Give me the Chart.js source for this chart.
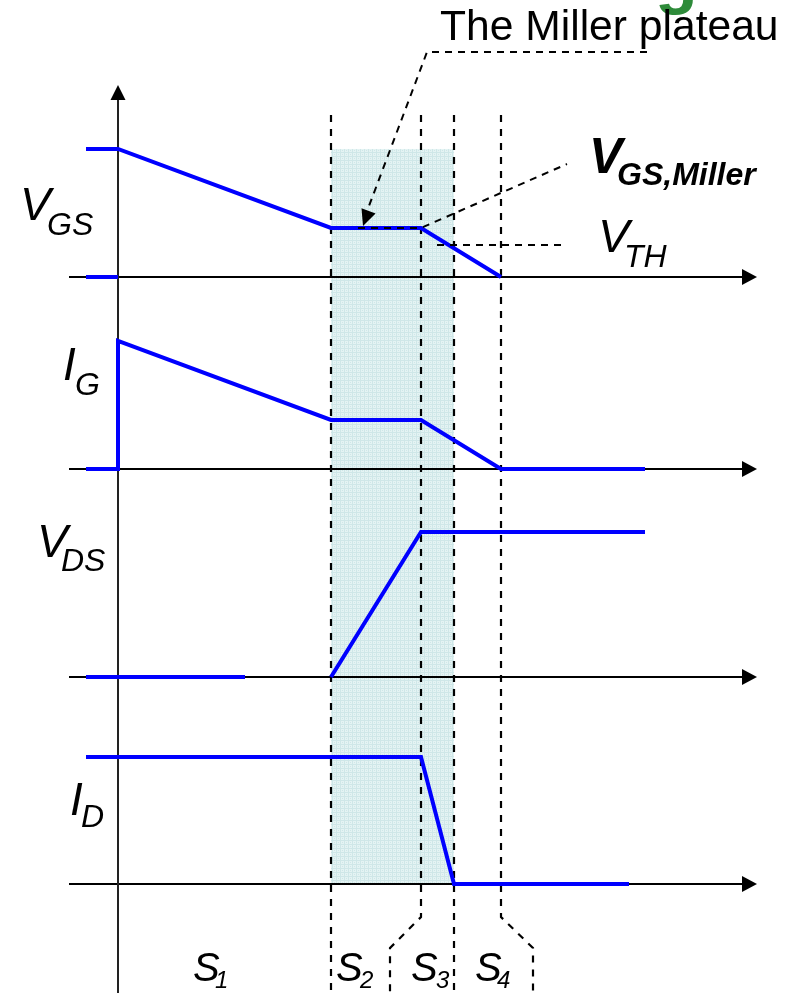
<!DOCTYPE html>
<html>
<head>
<meta charset="utf-8">
<script src="https://cdn.jsdelivr.net/npm/chart.js@4.4.1/dist/chart.umd.min.js"></script>
<style>
  html, body { margin: 0; padding: 0; background: #fff; }
  #wrap { position: relative; width: 790px; height: 993px; }
</style>
</head>
<body>
<div id="wrap"><canvas id="chart"></canvas></div>
<script>
// time axis in arbitrary units, t = 0 is the start of turn-off
const phaseEdges = [21.3, 30.3, 33.6, 38.3];   // end of S1, S2, S3, S4
const phaseSubs = ['1', '2', '3', '4'];

// gate-source voltage (normalised, 1 = drive level)
const vgsT = [-3.2, 0, 21.3, 30.3, 38.3, 38.3, -3.2, 0];
const vgsV = [1, 1, 0.383, 0.383, 0, null, 0, 0];
const vgsMiller = 0.383;
const vth = 0.25;

// gate current
const igT = [-3.2, 0, 0, 21.3, 30.3, 38.3, 52.7];
const igV = [0, 0, 1, 0.383, 0.383, 0, 0];

// drain-source voltage
const vdsT = [-3.2, 12.7, 12.7, 21.3, 30.3, 52.7];
const vdsV = [0, 0, null, 0, 1, 1];

// drain current
const idT = [-3.2, 30.3, 33.6, 51.1];
const idV = [1, 1, 0, 0];

const BLUE = '#0000ff';
const FONT = '"Liberation Sans", Arial, sans-serif';

function wave(label, times, values, axis) {
  return {
    label,
    data: times.map((t, i) => ({ x: t, y: values[i] })),
    yAxisID: axis,
    borderColor: BLUE,
    borderWidth: 4,
    pointRadius: 0,
    tension: 0,
    spanGaps: false,
    borderJoinStyle: 'miter',
  };
}

function dashed(ctx, pts) {
  ctx.beginPath();
  ctx.moveTo(pts[0][0], pts[0][1]);
  for (let i = 1; i < pts.length; i++) ctx.lineTo(pts[i][0], pts[i][1]);
  ctx.stroke();
}

function arrowHead(ctx, tipX, tipY, dx, dy, len, half) {
  const n = Math.hypot(dx, dy);
  const ux = dx / n, uy = dy / n;
  const bx = tipX - ux * len, by = tipY - uy * len;
  ctx.beginPath();
  ctx.moveTo(tipX, tipY);
  ctx.lineTo(bx - uy * half, by + ux * half);
  ctx.lineTo(bx + uy * half, by - ux * half);
  ctx.closePath();
  ctx.fill();
}

function label(ctx, main, sub, mx, my, sx, sy, mainPx, subPx, weight) {
  ctx.font = `italic ${weight} ${mainPx}px ${FONT}`;
  ctx.fillText(main, mx, my);
  ctx.font = `italic ${weight} ${subPx}px ${FONT}`;
  ctx.fillText(sub, sx, sy);
}

function shadePattern(ctx) {
  const c = document.createElement('canvas');
  c.width = 4; c.height = 4;
  const p = c.getContext('2d');
  p.fillStyle = '#e4f3f3';
  p.fillRect(0, 0, 4, 4);
  p.fillStyle = '#cfe7e8';
  p.fillRect(0, 0, 1, 4);
  p.fillRect(0, 0, 4, 1);
  p.fillRect(2, 2, 1, 1);
  return ctx.createPattern(c, 'repeat');
}

const diagramPlugin = {
  id: 'diagram',
  beforeDatasetsDraw(chart) {
    const { ctx, scales } = chart;
    const x = scales.x;
    const panels = [scales.yVGS, scales.yIG, scales.yVDS, scales.yID];
    const bottom = chart.height;
    ctx.save();

    // Miller plateau shading (S2 + S3)
    ctx.fillStyle = shadePattern(ctx);
    const sx0 = x.getPixelForValue(phaseEdges[0]);
    const sx1 = x.getPixelForValue(phaseEdges[2]);
    const sy0 = scales.yVGS.getPixelForValue(1);
    const sy1 = scales.yID.getPixelForValue(0);
    ctx.fillRect(sx0, sy0, sx1 - sx0, sy1 - sy0);

    // phase boundaries
    ctx.strokeStyle = '#000';
    ctx.lineWidth = 2.2;
    ctx.setLineDash([7, 7]);
    const top = 115;
    const kink = 917, kinkEnd = 948;
    phaseEdges.forEach((t, i) => {
      const px = x.getPixelForValue(t);
      if (i === 1) {
        dashed(ctx, [[px, top], [px, kink], [px - 31, kinkEnd], [px - 31, bottom]]);
      } else if (i === 3) {
        dashed(ctx, [[px, top], [px, kink], [px + 32, kinkEnd], [px + 32, bottom]]);
      } else {
        dashed(ctx, [[px, top], [px, bottom]]);
      }
    });
    ctx.setLineDash([]);

    // time axes with arrows
    ctx.lineWidth = 2;
    ctx.fillStyle = '#000';
    const ax0 = x.getPixelForValue(-4.9);
    const ax1 = x.getPixelForValue(63.9);
    panels.forEach(s => {
      const py = s.getPixelForValue(0);
      ctx.beginPath();
      ctx.moveTo(ax0, py);
      ctx.lineTo(ax1 - 12, py);
      ctx.stroke();
      arrowHead(ctx, ax1, py, 1, 0, 15, 8);
    });

    // vertical axis
    const vx = x.getPixelForValue(0);
    ctx.strokeStyle = '#222';
    ctx.beginPath();
    ctx.moveTo(vx, 98);
    ctx.lineTo(vx, bottom);
    ctx.stroke();
    ctx.fillStyle = '#000';
    arrowHead(ctx, vx, 85, 0, -1, 15, 7.5);
    ctx.restore();
  },
  afterDatasetsDraw(chart) {
    const { ctx, scales } = chart;
    const x = scales.x;
    const yv = scales.yVGS;
    ctx.save();
    ctx.strokeStyle = '#000';
    ctx.fillStyle = '#000';
    ctx.lineWidth = 2;
    ctx.setLineDash([7, 6]);

    const yMiller = yv.getPixelForValue(vgsMiller);
    const yTh = yv.getPixelForValue(vth);
    const xS3 = x.getPixelForValue(phaseEdges[1]);
    // V_GS,Miller leader
    dashed(ctx, [[x.getPixelForValue(24.0), yMiller], [xS3, yMiller], [567, 164]]);
    // V_TH leader
    dashed(ctx, [[x.getPixelForValue(31.9), yTh], [567, yTh]]);
    // "The Miller plateau" pointer
    const tipX = x.getPixelForValue(24.5), tipY = yMiller - 2;
    dashed(ctx, [[647, 52], [427, 52], [tipX + 3, tipY - 12]]);
    ctx.setLineDash([]);
    arrowHead(ctx, tipX, tipY, tipX - 427, tipY - 52, 16, 7.5);

    // texts
    ctx.textBaseline = 'alphabetic';
    ctx.textAlign = 'left';
    ctx.fillStyle = '#2e8b3a';
    ctx.font = `bold 70px ${FONT}`;
    ctx.fillText('g', 655, 0);

    ctx.fillStyle = '#000';
    ctx.font = `42.6px ${FONT}`;
    ctx.fillText('The Miller plateau', 440, 40);

    label(ctx, 'V', 'GS', 20, 220, 47, 235, 46, 32, 'normal');
    label(ctx, 'I', 'G', 63, 380, 75, 395, 46, 32, 'normal');
    label(ctx, 'V', 'DS', 37, 557, 61, 571, 46, 32, 'normal');
    label(ctx, 'I', 'D', 70, 815, 81, 827, 46, 32, 'normal');
    label(ctx, 'V', 'GS,Miller', 589, 173, 617, 185, 50, 32, 'bold');
    label(ctx, 'V', 'TH', 598, 252, 624, 267, 47, 32, 'normal');

    const sPos = [[193, 215], [336, 360], [411, 436], [475, 497]];
    sPos.forEach((p, i) => label(ctx, 'S', phaseSubs[i], p[0], 981, p[1], 988, 40, 24, 'normal'));
    ctx.restore();
  },
};

new Chart(document.getElementById('chart'), {
  type: 'line',
  data: {
    datasets: [
      wave('VGS', vgsT, vgsV, 'yVGS'),
      wave('IG', igT, igV, 'yIG'),
      wave('VDS', vdsT, vdsV, 'yVDS'),
      wave('ID', idT, idV, 'yID'),
    ],
  },
  options: {
    responsive: true,
    maintainAspectRatio: false,
    animation: false,
    layout: { padding: 0 },
    plugins: { legend: { display: false }, tooltip: { enabled: false } },
    scales: {
      x: { type: 'linear', display: false, min: -11.8, max: 67.2 },
      yID: { type: 'linear', position: 'left', display: false, stack: 'panels', stackWeight: 293, min: -0.858, max: 1.449 },
      yVDS: { type: 'linear', position: 'left', display: false, stack: 'panels', stackWeight: 210, min: -0.159, max: 1.290 },
      yIG: { type: 'linear', position: 'left', display: false, stack: 'panels', stackWeight: 190, min: -0.164, max: 1.320 },
      yVGS: { type: 'linear', position: 'left', display: false, stack: 'panels', stackWeight: 300, min: -0.18, max: 2.164 },
    },
  },
  plugins: [diagramPlugin],
});
</script>
</body>
</html>
